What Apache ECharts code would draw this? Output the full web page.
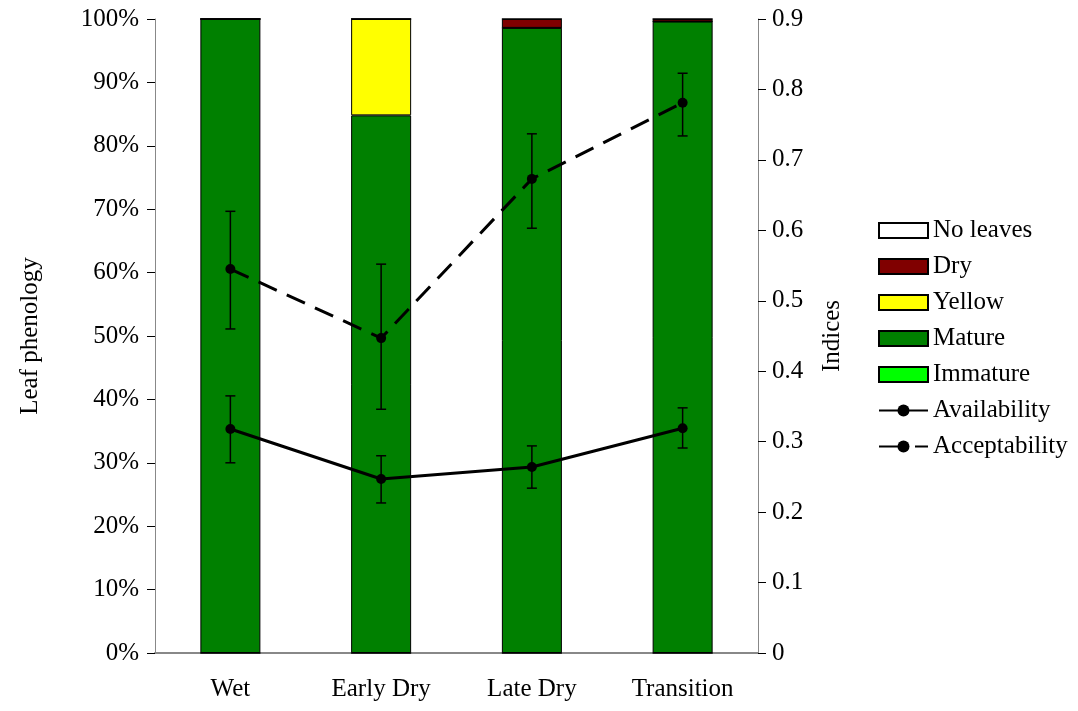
<!DOCTYPE html>
<html><head><meta charset="utf-8">
<script src="https://cdn.jsdelivr.net/npm/echarts@6/dist/echarts.min.js"></script>
<style>html,body{margin:0;padding:0;background:#fff}#c{width:1078px;height:711px}</style>
</head><body><div id="c"></div>
<script>
const categories = ['Wet', 'Early Dry', 'Late Dry', 'Transition'];
const immature = [0, 0, 0, 0];
const mature = [100, 84.8, 98.6, 99.6];
const yellow = [0, 15.2, 0, 0];
const dry = [0, 0, 1.4, 0.4];
const noLeaves = [0, 0, 0, 0];
const availability = [0.318, 0.247, 0.264, 0.319];
const availLow = [0.270, 0.213, 0.234, 0.291];
const availHigh = [0.365, 0.280, 0.294, 0.348];
const acceptability = [0.545, 0.447, 0.673, 0.781];
const acceptLow = [0.460, 0.346, 0.603, 0.734];
const acceptHigh = [0.627, 0.552, 0.737, 0.823];

const font = 'Liberation Serif';
const fs = 25;
const chart = echarts.init(document.getElementById('c'));

function errData(low, high) { return categories.map((c, i) => [i, low[i], high[i]]); }
function errRender(params, api) {
  const lo = api.coord([api.value(0), api.value(1)]);
  const hi = api.coord([api.value(0), api.value(2)]);
  const x = lo[0], w = 5;
  const st = { stroke: '#000', lineWidth: 1.5 };
  return { type: 'group', children: [
    { type: 'line', shape: { x1: x, y1: lo[1], x2: x, y2: hi[1] }, style: st },
    { type: 'line', shape: { x1: x - w, y1: lo[1], x2: x + w, y2: lo[1] }, style: st },
    { type: 'line', shape: { x1: x - w, y1: hi[1], x2: x + w, y2: hi[1] }, style: st }
  ]};
}
const barStyle = (c) => ({ color: c, borderColor: '#000', borderWidth: 1 });
const bar = (name, data, c) => ({ name, type: 'bar', stack: 'p', data, barWidth: 60, itemStyle: barStyle(c), yAxisIndex: 0 });

chart.setOption({
  animation: false,
  textStyle: { fontFamily: font, color: '#000' },
  grid: { left: 155, right: 320, top: 19, bottom: 58 },
  legend: {
    orient: 'vertical', left: 873, top: 213, itemWidth: 49, itemHeight: 15, itemGap: 11,
    textStyle: { fontFamily: font, fontSize: fs, color: '#000' },
    data: [
      { name: 'No leaves', icon: 'rect' }, { name: 'Dry', icon: 'rect' }, { name: 'Yellow', icon: 'rect' },
      { name: 'Mature', icon: 'rect' }, { name: 'Immature', icon: 'rect' }, 'Availability',
      { name: 'Acceptability', lineStyle: { type: [28, 8] } }
    ]
  },
  xAxis: {
    type: 'category', data: categories,
    axisLine: { lineStyle: { color: '#888', width: 2 } },
    axisTick: { lineStyle: { color: '#000' }, length: 10 },
    axisLabel: { fontFamily: font, fontSize: fs, color: '#000', margin: 24 }
  },
  yAxis: [
    { type: 'value', min: 0, max: 100, interval: 10, name: 'Leaf phenology', nameLocation: 'middle', nameGap: 112,
      nameTextStyle: { fontFamily: font, fontSize: fs, color: '#000' },
      axisLine: { show: true, lineStyle: { color: '#888', width: 1 } },
      axisTick: { show: true, lineStyle: { color: '#000' }, length: 8 },
      splitLine: { show: false },
      axisLabel: { formatter: '{value}%', fontFamily: font, fontSize: fs, color: '#000', margin: 16 } },
    { type: 'value', min: 0, max: 0.9, interval: 0.1, name: 'Indices', nameLocation: 'middle', nameGap: 62,
      nameTextStyle: { fontFamily: font, fontSize: fs, color: '#000' },
      axisLine: { show: true, lineStyle: { color: '#888', width: 1 } },
      axisTick: { show: true, lineStyle: { color: '#000' }, length: 8 },
      splitLine: { show: false },
      axisLabel: { formatter: (v) => v === 0 ? '0' : v.toFixed(1), fontFamily: font, fontSize: fs, color: '#000', margin: 14 } }
  ],
  series: [
    bar('Immature', immature, '#00ff00'),
    bar('Mature', mature, '#008000'),
    bar('Yellow', yellow, '#ffff00'),
    bar('Dry', dry, '#800000'),
    bar('No leaves', noLeaves, '#ffffff'),
    { name: 'AvailErr', type: 'custom', yAxisIndex: 1, data: errData(availLow, availHigh), renderItem: errRender, z: 3 },
    { name: 'AcceptErr', type: 'custom', yAxisIndex: 1, data: errData(acceptLow, acceptHigh), renderItem: errRender, z: 3 },
    { name: 'Availability', type: 'line', yAxisIndex: 1, data: availability, symbol: 'circle', symbolSize: 10,
      itemStyle: { color: '#000' }, lineStyle: { color: '#000', width: 3 }, z: 4 },
    { name: 'Acceptability', type: 'line', yAxisIndex: 1, data: acceptability, symbol: 'circle', symbolSize: 10,
      itemStyle: { color: '#000' }, lineStyle: { color: '#000', width: 3, type: [20, 11] }, z: 4 }
  ]
});
</script></body></html>
